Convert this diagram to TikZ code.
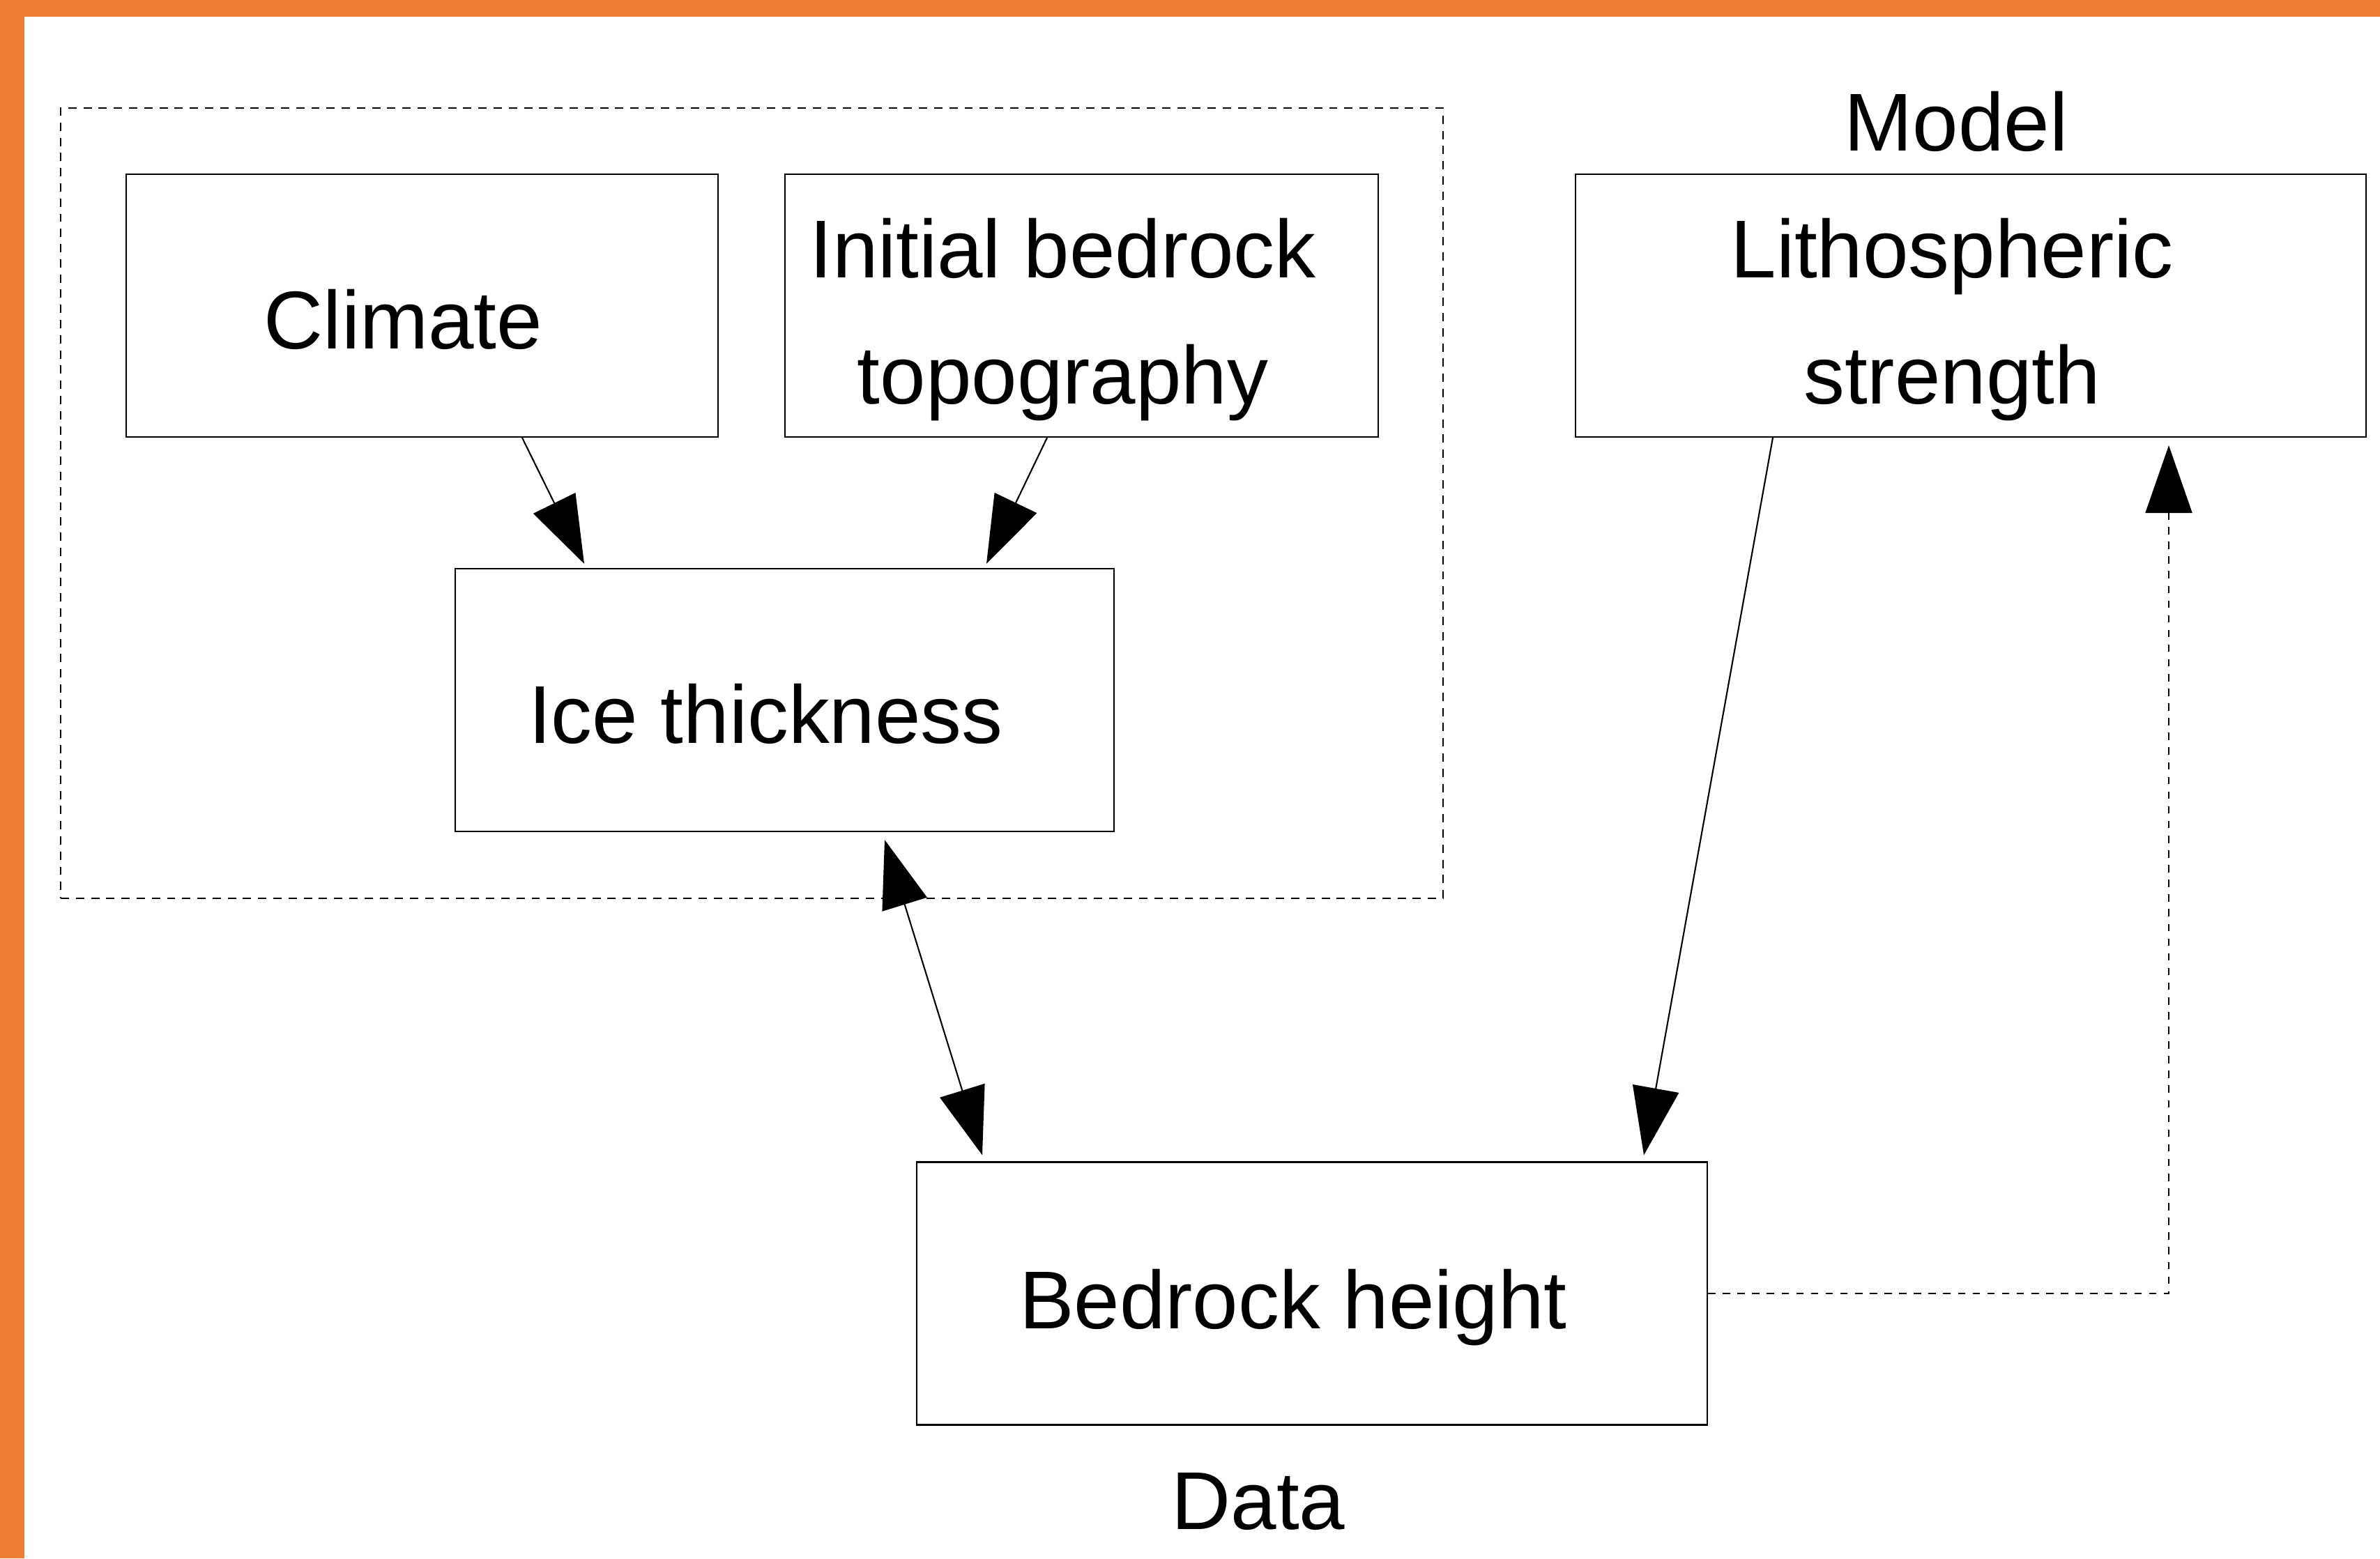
\documentclass[tikz,border=0pt]{standalone}
\usepackage{fontspec}
\setmainfont{Liberation Sans}
\usetikzlibrary{arrows.meta, positioning}
\definecolor{frameorange}{HTML}{ED7D31}
\tikzstyle{line} = [draw, line width=0.6pt, -{Triangle[length=0.97cm, width=0.67cm]}]
\tikzstyle{box} = [rectangle, draw, line width=0.6pt, minimum height=3.77cm]
\tikzstyle{boxtext} = [align=center, xshift=-0.27cm, yshift=-0.2cm, font=\fontsize{33.5}{51.5}\selectfont]
\tikzstyle{caption} = [font=\fontsize{33.5}{50}\selectfont]

\begin{document}
\begin{tikzpicture}

	\useasboundingbox (0,0) rectangle (34.14,-22.36);
	\fill [frameorange] (0,0) rectangle (34.14,-0.24);
	\fill [frameorange] (0,0) rectangle (0.35,-22.36);

	\node [box, minimum width=8.49cm, label={[boxtext]center:Climate}] (climate) at (6.055,-4.385) {};
	\node [box, minimum width=8.51cm, right of=climate, node distance=9.46cm, label={[boxtext]center:Initial bedrock\\topography}] (init) {};
	\node [box, minimum width=11.34cm, right of=init, node distance=12.755cm, label={[boxtext]center:Lithospheric\\strength}] (litho) {};

	\node [box, minimum width=9.45cm, below of=climate, node distance=5.66cm, xshift=5.2cm, label={[boxtext]center:Ice thickness}] (ice) {};
	\node [box, minimum width=11.34cm, below of=ice, node distance=8.515cm, xshift=7.565cm, label={[boxtext]center:Bedrock height}] (bedrock) {};

	\node [draw, line width=0.6pt, dash pattern=on 3.4pt off 2.8pt, minimum width=19.83cm, minimum height=11.34cm] (group) at (10.785,-7.22) {};

	\node [caption, above of=litho, node distance=2.645cm, xshift=-0.21cm] (model) {Model};
	\node [caption, below of=bedrock, node distance=2.99cm, xshift=-0.77cm] (data) {Data};

	\path [line] ([xshift=1.435cm]climate.south) -- ([xshift=-2.875cm, yshift=0.06cm]ice.north);
	\path [line] ([xshift=-0.495cm]init.south) -- ([xshift=2.895cm, yshift=0.06cm]ice.north);
	\path [line, {Triangle[length=0.97cm, width=0.67cm]}-{Triangle[length=0.97cm, width=0.67cm]}] ([xshift=1.435cm, yshift=-0.11cm]ice.south) -- ([xshift=-4.73cm, yshift=0.09cm]bedrock.north);
	\path [line] ([xshift=-2.84cm]litho.south) -- ([xshift=4.76cm, yshift=0.09cm]bedrock.north);
	\path [line, dash pattern=on 3pt off 3pt] (bedrock.east) -| ([xshift=2.84cm, yshift=-0.11cm]litho.south);

\end{tikzpicture}
\end{document}
